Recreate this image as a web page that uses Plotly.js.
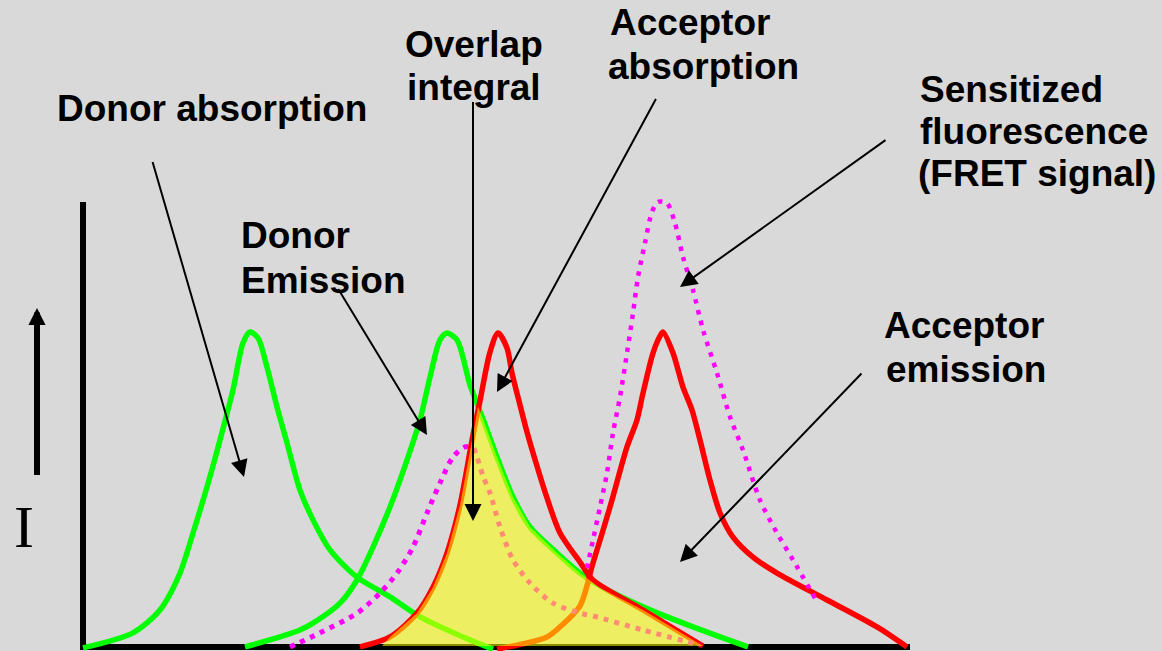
<!DOCTYPE html>
<html><head><meta charset="utf-8">
<script src="https://cdn.plot.ly/plotly-3.0.1.min.js"></script>
<style>html,body{margin:0;padding:0;background:#d9d9d9;overflow:hidden}#chart{width:1162px;height:651px}</style>
</head><body><div id="chart"></div>
<script>
// x: wavelength (arbitrary units), y: intensity (single spectrum peak = 1)
const donorAbsX = [83,133,160,180,193,207,220,233,243,250,258,267,277,287,300,313,330,357,390,420,463,493];
const donorAbsI = [-0.006,0.042,0.115,0.233,0.361,0.508,0.658,0.818,0.968,1.003,0.984,0.891,0.764,0.649,0.498,0.403,0.307,0.220,0.157,0.093,0.029,-0.010];

const donorEmX = [245,280,300,313,340,357,373,390,407,420,430,440,447,457,470,483,497,513,530,557,580,600,643,693,748];
const donorEmI = [-0.003,0.029,0.051,0.073,0.137,0.211,0.316,0.444,0.594,0.722,0.859,0.978,1.000,0.978,0.834,0.725,0.604,0.476,0.380,0.297,0.233,0.192,0.125,0.061,-0.003];

const accAbsX = [360,390,417,433,447,460,473,480,490,498,507,512,520,527,537,547,560,580,593,643,703];
const accAbsI = [-0.003,0.029,0.105,0.188,0.297,0.450,0.674,0.783,0.939,1.000,0.952,0.872,0.770,0.684,0.575,0.473,0.361,0.268,0.211,0.115,0.000];

const accEmX = [497,547,560,580,593,610,627,637,643,653,660,663,673,683,692,700,710,720,733,753,777,827,877,907];
const accEmI = [-0.010,0.029,0.061,0.128,0.265,0.444,0.636,0.722,0.808,0.936,0.990,1.003,0.936,0.827,0.754,0.658,0.530,0.425,0.348,0.284,0.233,0.147,0.061,-0.003];

const quenchX = [290,320,357,380,397,413,427,440,453,465,473,477,483,490,500,513,530,553,580,593,643,700];
const quenchI = [-0.003,0.042,0.105,0.169,0.233,0.316,0.425,0.521,0.604,0.636,0.633,0.604,0.543,0.489,0.380,0.275,0.201,0.137,0.105,0.096,0.051,0.003];

const sensX = [587,593,600,607,613,620,627,633,638,645,652,658,667,675,683,693,703,717,730,743,760,777,793,815];
const sensI = [0.249,0.339,0.444,0.553,0.681,0.796,0.936,1.064,1.179,1.288,1.387,1.419,1.415,1.351,1.243,1.137,1.010,0.872,0.732,0.626,0.466,0.361,0.275,0.153];

const overlapX = [382,390,417,433,447,460,473,478,483,497,513,530,557,580,600,643,703];
const overlapI = [0,0.029,0.105,0.188,0.297,0.450,0.674,0.764,0.725,0.604,0.476,0.380,0.297,0.233,0.185,0.115,0];

const labels = ["Donor absorption","Donor","Emission","Overlap","integral","Acceptor","absorption",
                "Sensitized","fluorescence","(FRET signal)","Acceptor","emission"];
const axisLabel = "I";

// pixel -> intensity helper for placing annotations
const BASE = 646, UNIT = 313;
const yI = py => (BASE - py) / UNIT;

const sm = 0.8;
const traces = [
  {x: donorAbsX, y: donorAbsI, mode:'lines', line:{color:'#00ff00', width:5.5, shape:'spline', smoothing:sm}},
  {x: donorEmX, y: donorEmI, mode:'lines', line:{color:'#00ff00', width:5.5, shape:'spline', smoothing:sm}},
  {x: accAbsX, y: accAbsI, mode:'lines', line:{color:'#ff0000', width:5.5, shape:'spline', smoothing:sm}},
  {x: accEmX, y: accEmI, mode:'lines', line:{color:'#ff0000', width:5.5, shape:'spline', smoothing:sm}},
  {x: quenchX, y: quenchI, mode:'lines', line:{color:'#ff00ff', width:5, dash:'5px,6px', shape:'spline', smoothing:sm}},
  {x: sensX, y: sensI, mode:'lines', line:{color:'#ff00ff', width:4.5, dash:'4.5px,6.5px', shape:'spline', smoothing:sm}},
  {x: overlapX, y: overlapI, mode:'lines', fill:'toself', fillcolor:'rgba(255,255,0,0.55)', line:{width:0, color:'rgba(0,0,0,0)'}}
];

// text label positions: [left px, baseline px]
const labelPos = [[57,121],[241,248],[241,293],[405,57],[407,100],[610,35],[608,79],
                  [920,102],[920,144],[918,186],[884,338],[886,382]];
const annotations = [];
labels.forEach((t,i)=>{
  const [lx, bl] = labelPos[i];
  annotations.push({x: lx-1, y: yI(bl-12.5), xref:'x', yref:'y', text:'<b>'+t+'</b>', showarrow:false,
    xanchor:'left', yanchor:'middle', borderpad:0,
    font:{family:'Liberation Sans, Arial, sans-serif', size:37, color:'#000'}});
});
annotations.push({x: 23.5, y: yI(527), xref:'x', yref:'y', text:axisLabel, showarrow:false,
  xanchor:'center', yanchor:'middle', borderpad:0,
  font:{family:'Liberation Serif, Times New Roman, serif', size:60, color:'#000'}});

// arrows: [tail px x, tail px y, tip px x, tip px y, width, size]
const arrows = [
  [152,160,244,477,2,1.7],
  [337,287,427,435,2,1.7],
  [473,100,473,521,2,1.7],
  [657,97,497,392,2,1.7],
  [887,139,680,287,2,1.7],
  [863,372,680,562,2,1.7],
  [37,477,37,308,6,0.57]
];
arrows.forEach(a=>{
  annotations.push({x:a[2], y:yI(a[3]), xref:'x', yref:'y', ax:a[0], ay:yI(a[1]), axref:'x', ayref:'y',
    text:' ', font:{size:1}, showarrow:true, arrowhead:2, arrowsize:a[5], arrowwidth:a[4],
    arrowcolor:'#000', standoff:0, startstandoff:0});
});

const shapes = [
  {type:'line', xref:'x', yref:'y', x0:83, x1:83, y0:yI(650), y1:yI(202), line:{color:'#000', width:6}, layer:'below'},
  {type:'line', xref:'x', yref:'y', x0:80, x1:910, y0:yI(647), y1:yI(647), line:{color:'#000', width:6}, layer:'below'}
];

const layout = {
  width:1162, height:651, margin:{l:0,r:0,t:0,b:0,pad:0},
  paper_bgcolor:'#d9d9d9', plot_bgcolor:'#d9d9d9', showlegend:false,
  xaxis:{range:[0,1162], visible:false, fixedrange:true},
  yaxis:{range:[yI(651), yI(0)], visible:false, fixedrange:true},
  annotations, shapes
};
Plotly.newPlot('chart', traces, layout, {displayModeBar:false, staticPlot:true});
</script></body></html>
